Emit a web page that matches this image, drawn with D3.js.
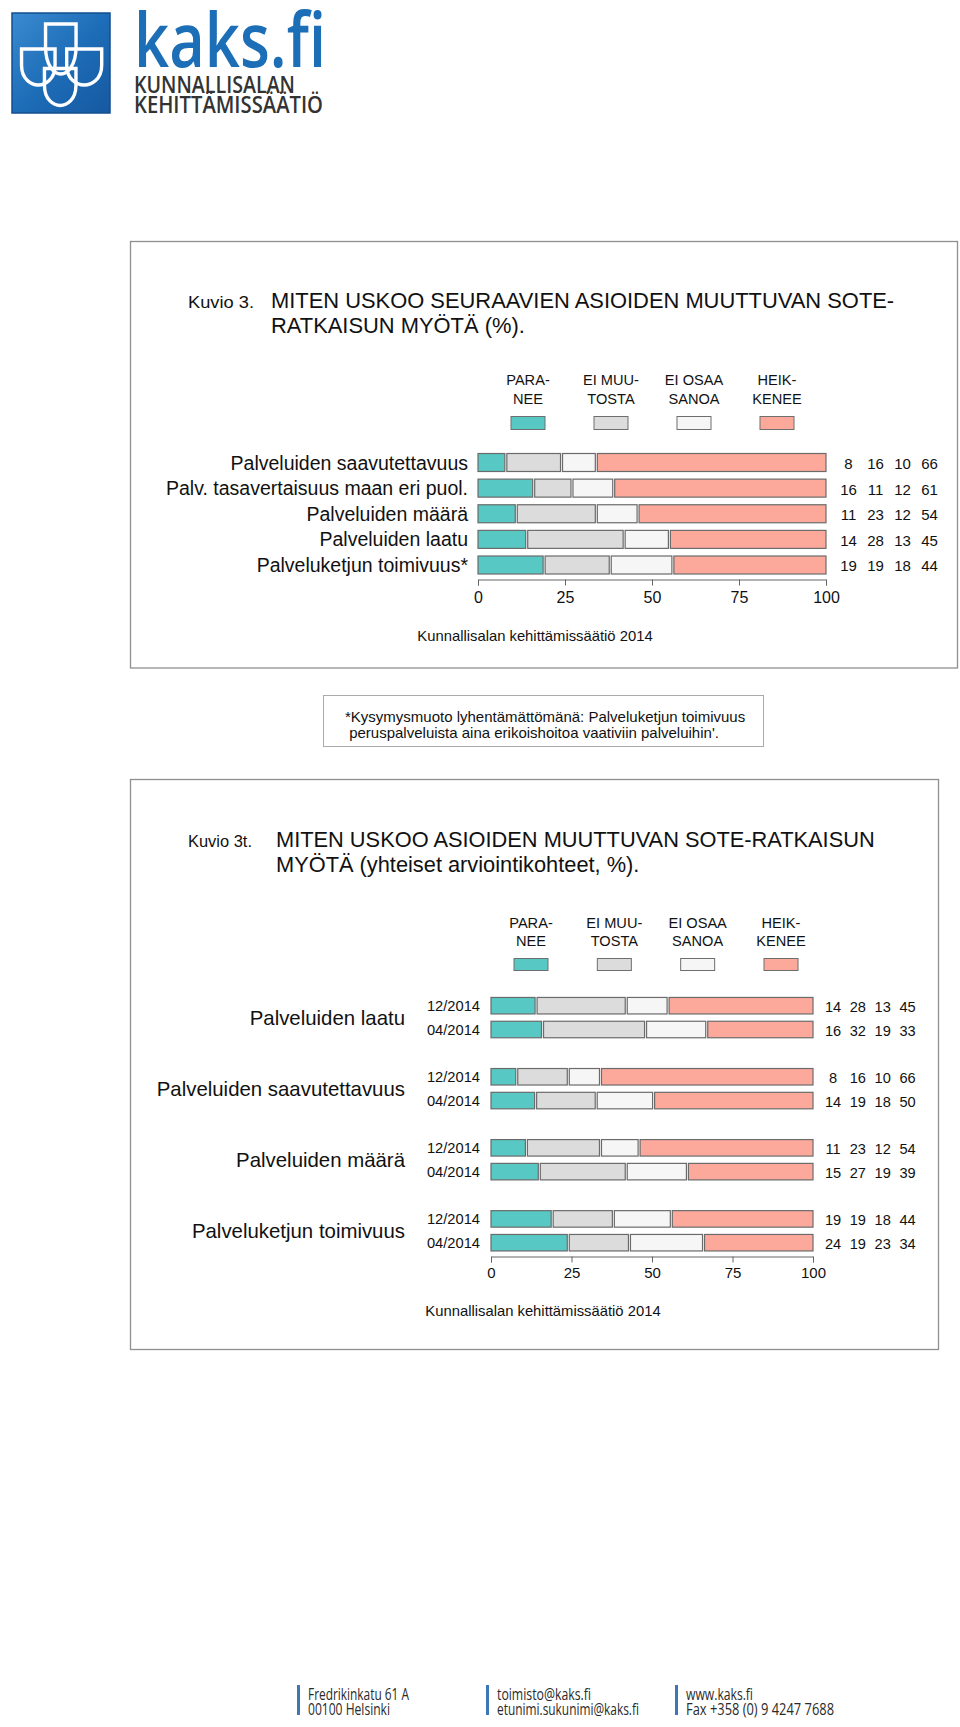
<!DOCTYPE html>
<html><head><meta charset="utf-8">
<script src="https://cdn.jsdelivr.net/npm/d3@7"></script>
<style>
html,body{margin:0;padding:0;background:#fff;}
svg{display:block;font-family:"Liberation Sans",Arial,Helvetica,sans-serif;}
</style></head><body>
<script>
// ---------- DATA ----------
const seriesNames = ["Paranee","Ei muutosta","Ei osaa sanoa","Heikkenee"];
const legendLines = [["PARA-","NEE"],["EI MUU-","TOSTA"],["EI OSAA","SANOA"],["HEIK-","KENEE"]];
const seriesColors = ["#57c8c3","#dcdcdc","#f6f6f6","#fca99c"];
const tickValues = [0,25,50,75,100];

// Kuvio 3
const categories1 = ["Palveluiden saavutettavuus","Palv. tasavertaisuus maan eri puol.","Palveluiden määrä","Palveluiden laatu","Palveluketjun toimivuus*"];
const paranee1     = [8,16,11,14,19];
const eiMuutosta1  = [16,11,23,28,19];
const eiOsaa1      = [10,12,12,13,18];
const heikkenee1   = [66,61,54,45,44];

// Kuvio 3t
const groups2  = ["Palveluiden laatu","Palveluiden saavutettavuus","Palveluiden määrä","Palveluketjun toimivuus"];
const periods2 = ["12/2014","04/2014"];
const paranee2_12    = [14,8,11,19];
const eiMuutosta2_12 = [28,16,23,19];
const eiOsaa2_12     = [13,10,12,18];
const heikkenee2_12  = [45,66,54,44];
const paranee2_04    = [16,14,15,24];
const eiMuutosta2_04 = [32,19,27,19];
const eiOsaa2_04     = [19,18,19,23];
const heikkenee2_04  = [33,50,39,34];

const source = "Kunnallisalan kehittämissäätiö 2014";
const footnote = ["*Kysymysmuoto lyhentämättömänä: Palveluketjun toimivuus"," peruspalveluista aina erikoishoitoa vaativiin palveluihin'."];
const footer = [["Fredrikinkatu 61 A","00100 Helsinki"],["toimisto@kaks.fi","etunimi.sukunimi@kaks.fi"],["www.kaks.fi","Fax +358 (0) 9 4247 7688"]];

// ---------- SVG ----------
const W = 960, H = 1727;
const svg = d3.select("body").append("svg").attr("width", W).attr("height", H);
svg.append("rect").attr("width", W).attr("height", H).attr("fill", "#fff");

// ---------- LOGO ----------
const defs = svg.append("defs");
const lg = defs.append("linearGradient").attr("id","lgBlue").attr("x1","0").attr("y1","0").attr("x2","1").attr("y2","1");
lg.append("stop").attr("offset","0").attr("stop-color","#3a8bd0");
lg.append("stop").attr("offset","0.5").attr("stop-color","#1e6db8");
lg.append("stop").attr("offset","1").attr("stop-color","#1559a0");
const logo = svg.append("g");
logo.append("rect").attr("x",12).attr("y",13).attr("width",98).attr("height",100)
  .attr("fill","url(#lgBlue)").attr("stroke","#134f8e").attr("stroke-width",1.5);
function shield(cx, top, w, h){
  const l = cx - w/2, r = cx + w/2;
  return `M${l},${top}H${r}V${top+h*0.45}C${r},${top+h*0.85} ${cx+w*0.2},${top+h} ${cx},${top+h}C${cx-w*0.2},${top+h} ${l},${top+h*0.85} ${l},${top+h*0.45}Z`;
}
const shields = [[60.8,24,30.5,50],[38.3,49,33.5,36],[84.2,49,35,36],[60.2,68.5,31.5,37]];
logo.selectAll("path.sh").data(shields).join("path").attr("class","sh")
  .attr("d", d => shield(...d)).attr("fill","none").attr("stroke","#fff").attr("stroke-width",3.4);
logo.append("text").attr("x",134).attr("y",67).attr("font-size",76).attr("font-weight",600)
  .attr("font-family","'Open Sans','Liberation Sans',sans-serif")
  .attr("fill","#1c6fb7").attr("textLength",192).attr("lengthAdjust","spacingAndGlyphs").text("kaks.fi");
logo.append("text").attr("x",134).attr("y",92.5).attr("font-size",24).attr("font-weight",600)
  .attr("font-family","'Open Sans','Liberation Sans',sans-serif")
  .attr("fill","#333").attr("textLength",161).attr("lengthAdjust","spacingAndGlyphs").text("KUNNALLISALAN");
logo.append("text").attr("x",134).attr("y",112.5).attr("font-size",24).attr("font-weight",600)
  .attr("font-family","'Open Sans','Liberation Sans',sans-serif")
  .attr("fill","#333").attr("textLength",189).attr("lengthAdjust","spacingAndGlyphs").text("KEHITTÄMISSÄÄTIÖ");

// ---------- helpers ----------
function drawLegend(g, cx0, cx1, yBase1, yBase2, boxY, boxH){
  const lx = d3.scalePoint().domain(seriesNames).range([cx0, cx1]);
  seriesNames.forEach((s,i) => {
    const t = g.append("text").attr("text-anchor","middle").attr("font-size",14.6).attr("fill","#111");
    t.append("tspan").attr("x", lx(s)).attr("y", yBase1).text(legendLines[i][0]);
    t.append("tspan").attr("x", lx(s)).attr("y", yBase2).text(legendLines[i][1]);
    g.append("rect").attr("x", lx(s)-17).attr("y", boxY).attr("width",34).attr("height",boxH)
      .attr("fill", seriesColors[i]).attr("stroke","#6e6e6e").attr("stroke-width",1);
  });
}
function drawStack(g, vals, x, yc, h){
  const total = d3.sum(vals);
  let cum = 0;
  vals.forEach((v,j) => {
    const x0 = x(cum/total*100), x1 = x((cum+v)/total*100);
    const a = x0 + (j>0 ? 1 : 0), b = x1 - (j<vals.length-1 ? 1 : 0);
    g.append("rect").attr("x", a).attr("y", yc - h/2).attr("width", Math.max(0,b-a)).attr("height", h)
      .attr("fill", seriesColors[j]).attr("stroke","#6b6b6b").attr("stroke-width",1.2);
    cum += v;
  });
}
function drawValues(g, vals, colX, yc, fs){
  vals.forEach((v,j) => {
    g.append("text").attr("x", colX(j)).attr("y", yc + fs*0.43).attr("text-anchor","middle")
      .attr("font-size", fs).attr("fill","#111").text(v);
  });
}
function drawAxis(g, x, y, fs, pad){
  const ax = g.append("g").attr("transform",`translate(0,${y})`)
    .call(d3.axisBottom(x).tickValues(tickValues).tickSize(6).tickPadding(pad));
  ax.select(".domain").attr("stroke","#666");
  ax.selectAll(".tick line").attr("stroke","#666");
  ax.selectAll(".tick text").attr("font-size", fs).attr("fill","#111")
    .attr("font-family","'Liberation Sans',Arial,sans-serif");
}

// ---------- CHART 1 ----------
const c1 = svg.append("g");
c1.append("rect").attr("x",130.5).attr("y",241.5).attr("width",827).attr("height",426.5)
  .attr("fill","none").attr("stroke","#8f8f8f").attr("stroke-width",1.3);
c1.append("text").attr("x",188).attr("y",308).attr("font-size",16.5).attr("fill","#111")
  .attr("textLength",66).attr("lengthAdjust","spacingAndGlyphs").text("Kuvio 3.");
c1.append("text").attr("x",271).attr("y",308).attr("font-size",21.9).attr("fill","#111").text("MITEN USKOO SEURAAVIEN ASIOIDEN MUUTTUVAN SOTE-");
c1.append("text").attr("x",271).attr("y",333).attr("font-size",21.9).attr("fill","#111").text("RATKAISUN MYÖTÄ (%).");
drawLegend(c1, 528, 777, 384.5, 403.5, 416.5, 13);

const x1 = d3.scaleLinear().domain([0,100]).range([478,826]);
const y1 = d3.scalePoint().domain(categories1).range([462.5,565]);
const col1 = d3.scaleLinear().domain([0,3]).range([848.5,929.5]);
categories1.forEach((c,i) => {
  const vals = [paranee1[i], eiMuutosta1[i], eiOsaa1[i], heikkenee1[i]];
  c1.append("text").attr("x",468).attr("y", y1(c)+7).attr("text-anchor","end")
    .attr("font-size",19.5).attr("fill","#111").text(c);
  drawStack(c1, vals, x1, y1(c), 18);
  drawValues(c1, vals, col1, y1(c), 15);
});
drawAxis(c1, x1, 579.5, 16, 6);
c1.append("text").attr("x",535).attr("y",640.5).attr("text-anchor","middle").attr("font-size",14.8).attr("fill","#111").text(source);

// ---------- FOOTNOTE ----------
const fn = svg.append("g");
fn.append("rect").attr("x",323.5).attr("y",695.5).attr("width",440).attr("height",51)
  .attr("fill","none").attr("stroke","#aaa").attr("stroke-width",1);
footnote.forEach((t,i) => fn.append("text").attr("x",345).attr("y",721.5+i*16.5)
  .attr("font-size",15).attr("fill","#111").attr("xml:space","preserve").style("white-space","pre").text(t));

// ---------- CHART 2 ----------
const c2 = svg.append("g");
c2.append("rect").attr("x",130.5).attr("y",779.5).attr("width",808).attr("height",570)
  .attr("fill","none").attr("stroke","#8f8f8f").attr("stroke-width",1.3);
c2.append("text").attr("x",188).attr("y",847).attr("font-size",16.5).attr("fill","#111")
  .attr("textLength",64).attr("lengthAdjust","spacingAndGlyphs").text("Kuvio 3t.");
c2.append("text").attr("x",276).attr("y",847).attr("font-size",21.8).attr("fill","#111").text("MITEN USKOO ASIOIDEN MUUTTUVAN SOTE-RATKAISUN");
c2.append("text").attr("x",276).attr("y",871.5).attr("font-size",21.8).attr("fill","#111").text("MYÖTÄ (yhteiset arviointikohteet, %).");
drawLegend(c2, 531, 781, 927.5, 945.5, 958.5, 12);

const x2 = d3.scaleLinear().domain([0,100]).range([491,813]);
const yg = d3.scalePoint().domain(groups2).range([1017.6,1230.8]);
const yp = d3.scalePoint().domain(periods2).range([-11.9,11.9]);
const col2 = d3.scaleLinear().domain([0,3]).range([833,907.5]);
groups2.forEach((gname,i) => {
  c2.append("text").attr("x",405).attr("y", yg(gname)+7.2).attr("text-anchor","end")
    .attr("font-size",20.4).attr("fill","#111").text(gname);
  const rows = [
    [paranee2_12[i], eiMuutosta2_12[i], eiOsaa2_12[i], heikkenee2_12[i]],
    [paranee2_04[i], eiMuutosta2_04[i], eiOsaa2_04[i], heikkenee2_04[i]]
  ];
  periods2.forEach((p,k) => {
    const yc = yg(gname) + yp(p);
    c2.append("text").attr("x",480).attr("y", yc+5.5).attr("text-anchor","end")
      .attr("font-size",14.7).attr("fill","#111").text(p);
    drawStack(c2, rows[k], x2, yc, 16.5);
    drawValues(c2, rows[k], col2, yc, 14.6);
  });
});
drawAxis(c2, x2, 1256.5, 15, 4.5);
c2.append("text").attr("x",543).attr("y",1316).attr("text-anchor","middle").attr("font-size",14.8).attr("fill","#111").text(source);

// ---------- FOOTER ----------
const ft = svg.append("g").attr("font-family","'Open Sans','Liberation Sans',sans-serif");
const fx = [297, 486, 675];
const fw = [[101,82],[94,142],[67,148]];
footer.forEach((lines,i) => {
  ft.append("rect").attr("x",fx[i]).attr("y",1685).attr("width",3).attr("height",30).attr("fill","#3b78b5");
  lines.forEach((t,k) => ft.append("text").attr("x",fx[i]+11).attr("y",1699.5+k*15.5)
    .attr("font-size",16).attr("fill","#2a2a2a").attr("textLength",fw[i][k]).attr("lengthAdjust","spacingAndGlyphs").text(t));
});
</script>
</body></html>
